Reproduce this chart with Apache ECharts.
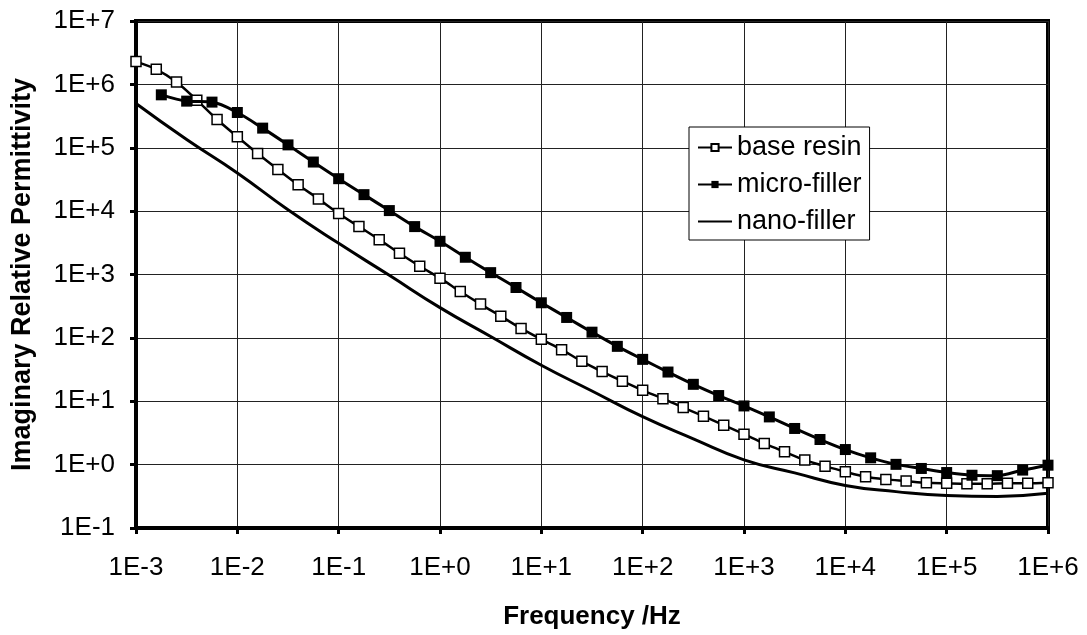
<!DOCTYPE html>
<html>
<head>
<meta charset="utf-8">
<script src="https://cdn.jsdelivr.net/npm/echarts@6/dist/echarts.min.js"></script>
<style>
html,body{margin:0;padding:0;background:#fff;}
#chart{width:1087px;height:635px;}
</style>
</head>
<body>
<div id="chart"></div>
<script>
// Frequencies (Hz) and imaginary relative permittivity values
const baseFreq = [
  1e-3,1.585e-3,2.512e-3,3.981e-3,6.31e-3,
  1e-2,1.585e-2,2.512e-2,3.981e-2,6.31e-2,
  1e-1,1.585e-1,2.512e-1,3.981e-1,6.31e-1,
  1e0,1.585e0,2.512e0,3.981e0,6.31e0,
  1e1,1.585e1,2.512e1,3.981e1,6.31e1,
  1e2,1.585e2,2.512e2,3.981e2,6.31e2,
  1e3,1.585e3,2.512e3,3.981e3,6.31e3,
  1e4,1.585e4,2.512e4,3.981e4,6.31e4,
  1e5,1.585e5,2.512e5,3.981e5,6.31e5,
  1e6
];
const baseResin = [
  2.29e6,1.73e6,1.09e6,5.64e5,2.79e5,
  1.49e5,8.1e4,4.55e4,2.61e4,1.56e4,
  9.2e3,5.7e3,3.55e3,2.16e3,1.35e3,
  875,540,341,220,141,
  94.7,65.2,42.7,29.4,20.7,
  14.9,11.0,7.96,5.81,4.19,
  3.02,2.16,1.59,1.18,0.946,
  0.771,0.643,0.585,0.55,0.516,
  0.506,0.499,0.499,0.506,0.506,
  0.516
];
const microFreq = [
  1.778e-3,3.162e-3,5.623e-3,
  1e-2,1.778e-2,3.162e-2,5.623e-2,
  1e-1,1.778e-1,3.162e-1,5.623e-1,
  1e0,1.778e0,3.162e0,5.623e0,
  1e1,1.778e1,3.162e1,5.623e1,
  1e2,1.778e2,3.162e2,5.623e2,
  1e3,1.778e3,3.162e3,5.623e3,
  1e4,1.778e4,3.162e4,5.623e4,
  1e5,1.778e5,3.162e5,5.623e5,
  1e6
];
const microFiller = [
  6.84e5,5.44e5,5.25e5,
  3.6e5,2.04e5,1.11e5,5.95e4,
  3.25e4,1.82e4,1.02e4,5.7e3,
  3.34e3,1.87e3,1.07e3,624,
  358,210,123,73.5,
  45.8,28.9,18.5,12.3,
  8.43,5.66,3.72,2.49,
  1.73,1.28,1.01,0.87,
  0.75,0.68,0.67,0.82,
  0.98
];
const nanoFreq = [
  1e-3,3.162e-3,1e-2,3.162e-2,1e-1,3.162e-1,1e0,3.162e0,1e1,3.162e1,
  1e2,3.162e2,1e3,3.162e3,1e4,3.162e4,1e5,3.162e5,1e6
];
const nanoFiller = [
  5.0e5,1.35e5,4.0e4,1.05e4,3.1e3,9.7e2,3.0e2,105,37,14.5,
  5.7,2.55,1.19,0.74,0.47,0.375,0.325,0.315,0.352
];
const seriesNames = ['base resin','micro-filler','nano-filler'];
const xTitle = 'Frequency /Hz';
const yTitle = 'Imaginary Relative Permittivity';

function pairs(xs, ys){ return xs.map((x,i)=>[x, ys[i]]); }
function sciLabel(v){
  const e = Math.round(Math.log10(v));
  return '1E' + (e < 0 ? '-' : '+') + Math.abs(e);
}
const FONT = '"Liberation Sans", Arial, sans-serif';

const chart = echarts.init(document.getElementById('chart'), null, {renderer:'canvas'});
chart.setOption({
  animation: false,
  backgroundColor: '#fff',
  grid: {
    left: 136, right: 39, top: 21, bottom: 106,
    show: true, borderColor: '#000', borderWidth: 4, backgroundColor: '#fff'
  },
  legend: {
    data: [
      {name: seriesNames[0]},
      {name: seriesNames[1]},
      {name: seriesNames[2], itemStyle: {opacity: 0}}
    ],
    orient: 'vertical',
    left: 689, top: 127,
    backgroundColor: '#fff',
    borderColor: '#000', borderWidth: 1,
    padding: [7, 8, 5, 8],
    itemGap: 10,
    itemWidth: 34, itemHeight: 9,
    textStyle: {fontSize: 27, fontFamily: FONT, color: '#000'}
  },
  xAxis: {
    type: 'log', logBase: 10, min: 1e-3, max: 1e6, splitNumber: 9,
    name: xTitle, nameLocation: 'middle', nameGap: 76,
    nameTextStyle: {fontSize: 26, fontWeight: 'bold', fontFamily: FONT, color: '#000'},
    axisLine: {show: true, lineStyle: {color: '#000', width: 4}},
    axisTick: {show: true, inside: false, length: 6, lineStyle: {color: '#000', width: 3}},
    axisLabel: {formatter: sciLabel, fontSize: 26, fontFamily: FONT, color: '#000', margin: 27},
    splitLine: {show: true, lineStyle: {color: '#222', width: 1}},
    minorTick: {show: false}
  },
  yAxis: {
    type: 'log', logBase: 10, min: 0.1, max: 1e7, splitNumber: 8,
    name: yTitle, nameLocation: 'middle', nameGap: 100, nameRotate: 90,
    nameTextStyle: {fontSize: 27, fontWeight: 'bold', fontFamily: FONT, color: '#000'},
    axisLine: {show: true, lineStyle: {color: '#000', width: 4}},
    axisTick: {show: true, inside: false, length: 6, lineStyle: {color: '#000', width: 3}},
    axisLabel: {formatter: sciLabel, fontSize: 26, fontFamily: FONT, color: '#000', margin: 21},
    splitLine: {show: true, lineStyle: {color: '#222', width: 1}}
  },
  series: [
    {
      name: seriesNames[0], type: 'line', data: pairs(baseFreq, baseResin),
      smooth: 0.3, symbol: 'rect', symbolSize: 10,
      lineStyle: {color: '#000', width: 2.5},
      itemStyle: {color: '#fff', borderColor: '#000', borderWidth: 1.5},
      z: 3
    },
    {
      name: seriesNames[1], type: 'line', data: pairs(microFreq, microFiller),
      smooth: 0.3, symbol: 'rect', symbolSize: 11,
      lineStyle: {color: '#000', width: 3},
      itemStyle: {color: '#000', borderColor: '#000', borderWidth: 0},
      z: 4
    },
    {
      name: seriesNames[2], type: 'line', data: pairs(nanoFreq, nanoFiller),
      smooth: 0.5, symbol: 'none', showSymbol: false,
      lineStyle: {color: '#000', width: 3},
      itemStyle: {color: '#000'},
      z: 2
    }
  ]
});
</script>
</body>
</html>
